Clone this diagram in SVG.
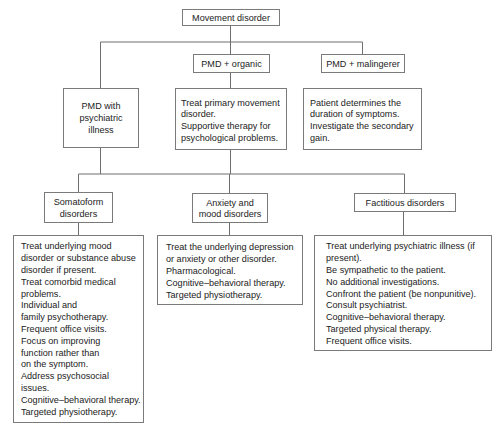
<svg xmlns="http://www.w3.org/2000/svg" width="500" height="425" viewBox="0 0 500 425">
<style>
.box{fill:#fff;stroke:#7a7a7a;stroke-width:1}
.ln{fill:none;stroke:#6e6e6e;stroke-width:1}
text{font-family:"Liberation Sans",Arial,sans-serif;font-size:9.1px;fill:#222}
.c{text-anchor:middle}
</style>
<rect width="500" height="425" fill="#fff"/>
<g id="connectors">
<path class="ln" d="M230.5,25 V42 M100.5,42 H362.5 M100.5,42 V88 M230.5,42 V54 M362.5,42 V54 M230.5,72 V88 M100.5,147 V174 M230.5,149 V174 M78.5,174 H404.5 M78.5,174 V192 M229.5,174 V193 M404.5,174 V193 M78.5,222 V235 M229.5,222 V235 M403.5,211 V235"/>
</g>
<g id="movement">
<rect class="box" x="182.5" y="9.5" width="97" height="16"/>
<text class="c" x="231" y="20.5">Movement disorder</text>
</g>
<g id="pmd-organic">
<rect class="box" x="193.5" y="54.5" width="76" height="18"/>
<text class="c" x="231.5" y="66.5">PMD + organic</text>
</g>
<g id="pmd-malingerer">
<rect class="box" x="321.5" y="54.5" width="83" height="18"/>
<text class="c" x="363" y="66.5">PMD + malingerer</text>
</g>
<g id="pmd-psychiatric">
<rect class="box" x="63.5" y="88.5" width="75" height="59"/>
<text class="c" x="101" y="108.5">PMD with</text>
<text class="c" x="101" y="120.5">psychiatric</text>
<text class="c" x="101" y="132.5">illness</text>
</g>
<g id="organic-treat">
<rect class="box" x="175.5" y="88.5" width="111" height="61"/>
<text x="181" y="105.5">Treat primary movement</text>
<text x="181" y="117.3">disorder.</text>
<text x="181" y="129.1">Supportive therapy for</text>
<text x="181" y="140.9">psychological problems.</text>
</g>
<g id="malingerer-treat">
<rect class="box" x="303.5" y="88.5" width="118" height="61"/>
<text x="310" y="105.5">Patient determines the</text>
<text x="310" y="117.3">duration of symptoms.</text>
<text x="310" y="129.1">Investigate the secondary</text>
<text x="310" y="140.9">gain.</text>
</g>
<g id="somatoform">
<rect class="box" x="44.5" y="192.5" width="68" height="30"/>
<text class="c" x="78.5" y="205">Somatoform</text>
<text class="c" x="78.5" y="216.5">disorders</text>
</g>
<g id="anxiety">
<rect class="box" x="192.5" y="193.5" width="75" height="29"/>
<text class="c" x="230" y="205.5">Anxiety and</text>
<text class="c" x="230" y="216.8">mood disorders</text>
</g>
<g id="factitious">
<rect class="box" x="354.5" y="193.5" width="101" height="18"/>
<text class="c" x="405" y="205.5">Factitious disorders</text>
</g>
<g id="somatoform-treat">
<rect class="box" x="13.5" y="235.5" width="130" height="187"/>
<text x="21" y="249.3">Treat underlying mood</text>
<text x="21" y="261.1">disorder or substance abuse</text>
<text x="21" y="272.9">disorder if present.</text>
<text x="21" y="284.7">Treat comorbid medical</text>
<text x="21" y="296.5">problems.</text>
<text x="21" y="308.3">Individual and</text>
<text x="21" y="320.1">family psychotherapy.</text>
<text x="21" y="331.9">Frequent office visits.</text>
<text x="21" y="343.7">Focus on improving</text>
<text x="21" y="355.5">function rather than</text>
<text x="21" y="367.3">on the symptom.</text>
<text x="21" y="379.1">Address psychosocial</text>
<text x="21" y="390.9">issues.</text>
<text x="21" y="402.7">Cognitive–behavioral therapy.</text>
<text x="21" y="414.5">Targeted physiotherapy.</text>
</g>
<g id="anxiety-treat">
<rect class="box" x="157.5" y="235.5" width="145" height="69"/>
<text x="166" y="250.3">Treat the underlying depression</text>
<text x="166" y="262.1">or anxiety or other disorder.</text>
<text x="166" y="273.9">Pharmacological.</text>
<text x="166" y="285.7">Cognitive–behavioral therapy.</text>
<text x="166" y="297.5">Targeted physiotherapy.</text>
</g>
<g id="factitious-treat">
<rect class="box" x="314.5" y="235.5" width="177" height="115"/>
<text x="326" y="249.3">Treat underlying psychiatric illness (if</text>
<text x="326" y="261.1">present).</text>
<text x="326" y="272.9">Be sympathetic to the patient.</text>
<text x="326" y="284.7">No additional investigations.</text>
<text x="326" y="296.5">Confront the patient (be nonpunitive).</text>
<text x="326" y="308.3">Consult psychiatrist.</text>
<text x="326" y="320.1">Cognitive–behavioral therapy.</text>
<text x="326" y="331.9">Targeted physical therapy.</text>
<text x="326" y="343.7">Frequent office visits.</text>
</g>
</svg>
